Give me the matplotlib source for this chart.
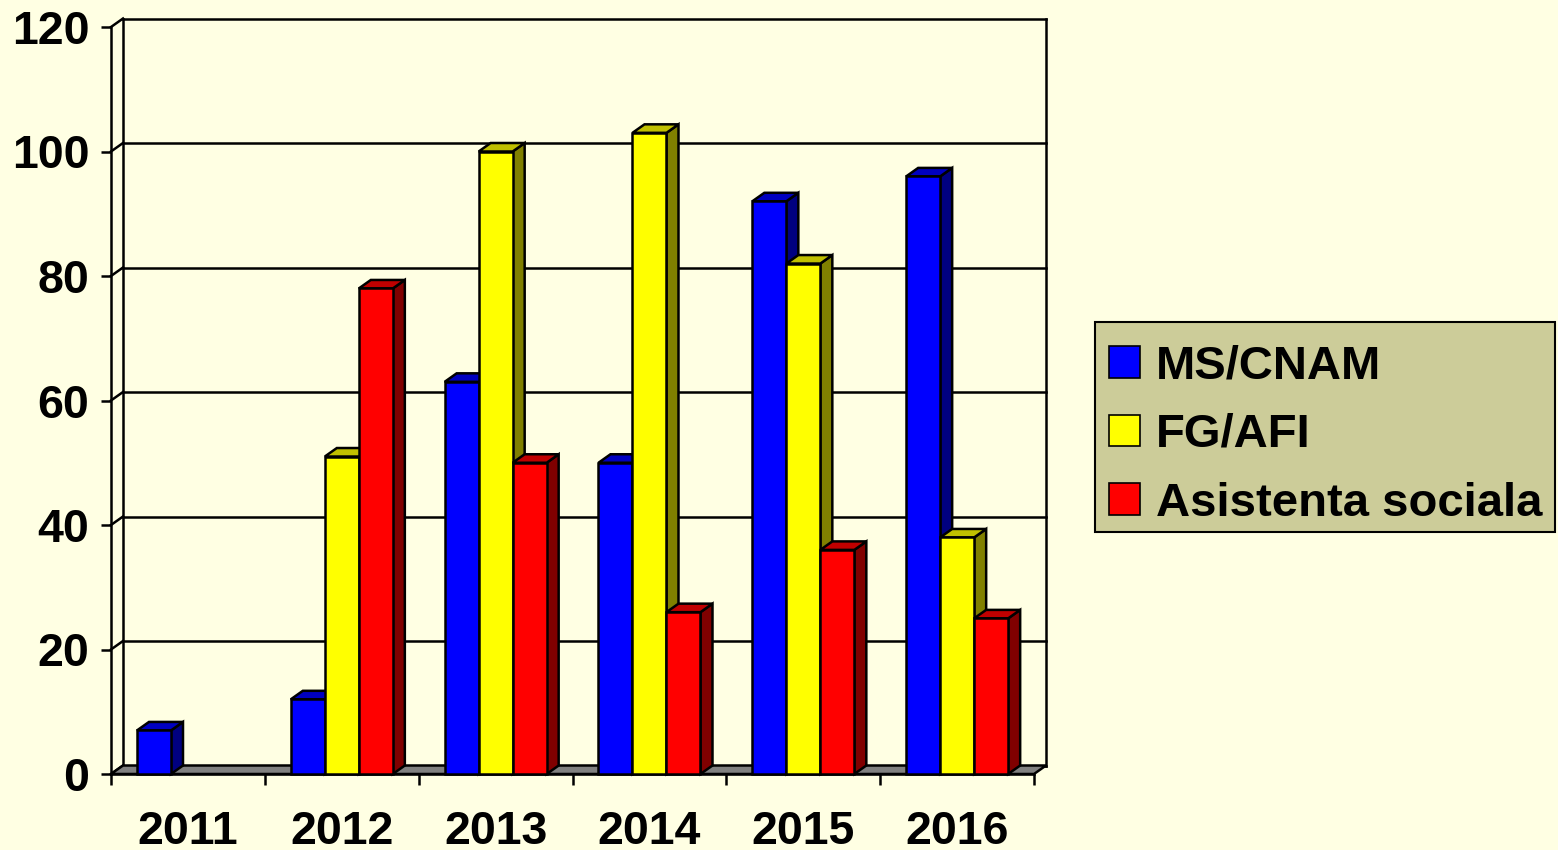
import matplotlib
matplotlib.use("Agg")
import matplotlib.pyplot as plt
from matplotlib.patches import Polygon, Patch, Rectangle
import numpy as np

plt.rcParams['font.family'] = ['Liberation Sans', 'DejaVu Sans']
plt.rcParams['font.weight'] = 'bold'

years = ['2011', '2012', '2013', '2014', '2015', '2016']
series_names = ['MS/CNAM', 'FG/AFI', 'Asistenta sociala']
ms_cnam = [7, 12, 63, 50, 92, 96]
fg_afi = [0, 51, 100, 103, 82, 38]
asistenta = [0, 78, 50, 26, 36, 25]
yticks = [0, 20, 40, 60, 80, 100, 120]

front_colors = ['#0000FF', '#FFFF00', '#FF0000']
top_colors = ['#0000C0', '#C0C000', '#C00000']
side_colors = ['#000080', '#808000', '#800000']
BG = '#FFFFE3'
FLOOR = '#808080'
LEGEND_BG = '#CCCC99'

W, H = 1558, 850
fig = plt.figure(figsize=(W / 100, H / 100), dpi=100, facecolor=BG)
ax = fig.add_axes([111 / W, (H - 774) / H, 923 / W, 747 / H])
ax.set_facecolor('none')
n = len(years)
ymax = 120
ax.set_xlim(0, n)
ax.set_ylim(0, ymax)
for s in ax.spines.values():
    s.set_visible(False)

# depth offsets (in data units) for the pseudo-3D look
px_x = 923 / n
px_y = 747 / ymax
DX = 12 / px_x
DY = 8.5 / px_y

lw = 1.8
# back wall & left wall gridlines
for t in yticks:
    ax.plot([DX, n + DX], [t + DY, t + DY], color='black', lw=lw, clip_on=False, zorder=1)
    ax.plot([0, DX], [t, t + DY], color='black', lw=lw, clip_on=False, zorder=1)
ax.plot([0, 0], [0, ymax], color='black', lw=lw, clip_on=False, zorder=1)
ax.plot([DX, DX], [DY, ymax + DY], color='black', lw=lw, clip_on=False, zorder=1)
ax.plot([n + DX, n + DX], [DY, ymax + DY], color='black', lw=lw, clip_on=False, zorder=1)

# floor
floor = Polygon([[0, 0], [n, 0], [n + DX, DY], [DX, DY]], closed=True,
                facecolor=FLOOR, edgecolor='black', lw=lw, clip_on=False, zorder=2)
ax.add_patch(floor)

bw = 34 / px_x
gap = 26 / px_x
data = [ms_cnam, fg_afi, asistenta]
z = 3
for i in range(n):
    for k in range(3):
        v = data[k][i]
        if v <= 0:
            continue
        x0 = i + gap + k * bw
        x1 = x0 + bw
        front = Polygon([[x0, 0], [x1, 0], [x1, v], [x0, v]], closed=True,
                        facecolor=front_colors[k], edgecolor='black', lw=lw,
                        clip_on=False, zorder=z)
        side = Polygon([[x1, 0], [x1 + DX, DY], [x1 + DX, v + DY], [x1, v]], closed=True,
                       facecolor=side_colors[k], edgecolor='black', lw=lw,
                       clip_on=False, zorder=z)
        top = Polygon([[x0, v], [x1, v], [x1 + DX, v + DY], [x0 + DX, v + DY]], closed=True,
                      facecolor=top_colors[k], edgecolor='black', lw=lw,
                      clip_on=False, zorder=z)
        ax.add_patch(side)
        ax.add_patch(top)
        ax.add_patch(front)
        z += 1

# axes ticks & labels
ax.set_yticks(yticks)
ax.set_yticklabels([str(t) for t in yticks], fontsize=33.5, fontweight='bold')
ax.tick_params(axis='y', length=7.5, width=lw, pad=8, direction='out')
ax.set_xticks(np.arange(n) + 0.5)
ax.set_xticklabels(years, fontsize=33.5, fontweight='bold')
ax.set_xticks(np.arange(n + 1), minor=True)
ax.tick_params(axis='x', which='major', length=0, pad=26)
ax.tick_params(axis='x', which='minor', length=8, width=lw, direction='out')
ax.plot([0, n], [0, 0], color='black', lw=lw, clip_on=False, zorder=2)

# legend frame
frame = Rectangle((1095 / W, 1 - 532 / H), 460 / W, 210 / H, transform=fig.transFigure,
                  facecolor=LEGEND_BG, edgecolor='black', lw=1.5, zorder=5)
fig.patches.append(frame)

handles = [Patch(facecolor=c, edgecolor='black', lw=1.2) for c in front_colors]
leg = fig.legend(handles, series_names, loc='center left',
                 bbox_to_anchor=(1095 / W, 1 - 435 / H),
                 prop={'family': 'Liberation Sans', 'weight': 'bold', 'size': 34},
                 frameon=False, handlelength=0.66, handleheight=0.66, handletextpad=0.33,
                 labelspacing=0.52, borderpad=0.3, borderaxespad=0)
leg.set_zorder(6)

fig.savefig('out.png', dpi=100, facecolor=BG)
